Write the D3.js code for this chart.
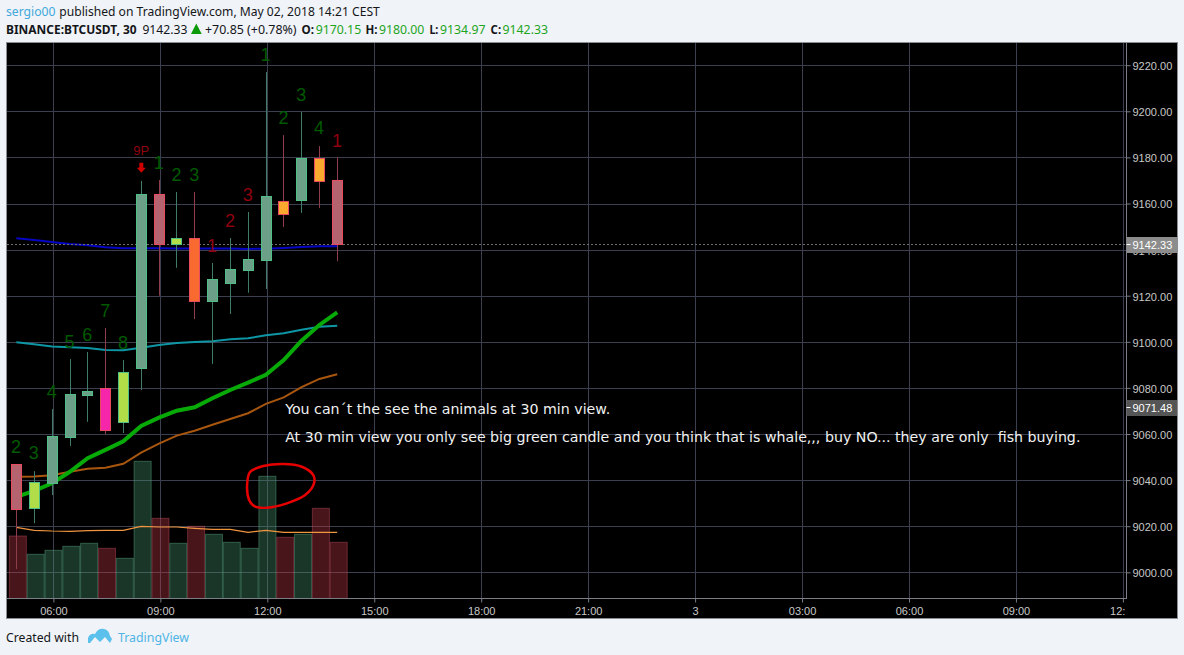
<!DOCTYPE html>
<html><head><meta charset="utf-8">
<script src="https://cdn.jsdelivr.net/npm/d3@7/dist/d3.min.js"></script>
<style>
html,body{margin:0;padding:0;background:#f0f3f7;}
svg{display:block;}
text{white-space:pre;}
</style></head><body>
<svg id="c" width="1184" height="655"></svg>
<script>
// ---- data ----
const hours  = [5,5.5,6,6.5,7,7.5,8,8.5,9,9.5,10,10.5,11,11.5,12,12.5,13,13.5,14];
const opens  = [9047,9027.8,9038.9,9058.8,9076.9,9079.8,9064.9,9088.8,9164.1,9142.4,9145,9117.8,9125.6,9131.3,9135.6,9161.1,9161.6,9179.7,9170.15];
const closes = [9027.6,9039,9059.1,9077.4,9078.7,9061.4,9086.8,9164.1,9142.4,9145,9117.8,9127.2,9131.6,9135.9,9163.3,9155.6,9179.7,9169.9,9142.33];
const highs  = [9047,9043.9,9070.8,9092.5,9095.6,9106,9092.1,9169.8,9170.2,9165,9165,9134.2,9145,9156.3,9217,9189.7,9199.7,9184.9,9180];
const lows   = [9001.4,9021.3,9033.5,9054.8,9065.3,9060,9060.4,9079.1,9120,9132.1,9109.9,9090.4,9112.1,9121.3,9122.9,9149.8,9155.9,9158,9134.97];
const kinds  = ["base","lime","base","base","base","magenta","lime","base","base","lime","orange","base","base","base","base","amber","base","amber","base"];
const volumes= [625,442,482,522,552,502,402,1372,802,552,722,642,562,502,1222,612,642,902,562];
const volMA  = [712,682,675,672,678,682,682,722,715,715,702,692,692,662,682,662,662,662,662];
const emaBlue  = [9144.9,9144.2,9143.3,9142.4,9141.9,9141,9140.6,9140.6,9140.6,9140.5,9140.5,9140.5,9140.5,9140.3,9140.4,9140.7,9141.1,9141.4,9141.4];
const emaTeal  = [9099.8,9098.9,9098,9097.6,9097.3,9096.4,9096.3,9097.4,9098.6,9099.5,9099.9,9100.2,9101.1,9101.5,9102.8,9103.7,9105.2,9106.5,9107];
const emaGreen = [9032.7,9035.3,9038.6,9043.6,9049.5,9053.1,9056.8,9063.5,9067.1,9070.1,9071.6,9075.5,9079.1,9082.3,9085.7,9092.1,9100.5,9107.3,9112.8];
const emaBrown = [9041.5,9041.6,9042.1,9043.6,9044.9,9045.4,9047.1,9051.9,9055.8,9059.3,9061.4,9064,9066.5,9069,9073.1,9075.9,9080.3,9083.9,9085.9];
const seqText  = ["2","3","4","5","6","7","8","1","2","3","1","2","3","1","2","3","4","1"];
const seqHour  = [5,5.5,6,6.5,7,7.5,8,9,9.5,10,10.5,11,11.5,12,12.5,13,13.5,14];
const seqPrice = [9054.4,9051.8,9078.2,9100,9103,9113.4,9099.5,9177.7,9172.4,9172.4,9141.6,9152.4,9163.7,9224.4,9197.1,9207.1,9192.8,9187.1];
const seqSide  = ["up","up","up","up","up","up","up","up","up","up","down","down","down","up","up","up","up","down"];
const priceTicks = [9000,9020,9040,9060,9080,9100,9120,9140,9160,9180,9200,9220];
const timeTickHours = [6,9,12,15,18,21,24,27,30,33,36];
const timeTickLabels = ["06:00","09:00","12:00","15:00","18:00","21:00","3","03:00","06:00","09:00","12:00"];
const lastPrice = 9142.33, lastVol = 9071.48;
const circleHours  = [11.52,11.89,12.45,12.97,13.29,13.31,13.06,12.55,11.99,11.66,11.49,11.44];
const circlePrices = [9043.6,9046.1,9047,9045.8,9042.2,9038.6,9033.5,9029.9,9028,9028.5,9031.4,9039.3];
const noteLines = ["You can\u00b4t the see the animals at 30 min view.",
  "At 30 min view you only see big green candle and you think that is whale,,, buy NO... they are only  fish buying."];
const notePrices = [9071.2,9059];

// ---- scales ----
const x = d3.scaleLinear().domain([6,36]).range([53.4,1122.9]);
const y = d3.scaleLinear().domain([9000,9220]).range([572.3,65.2]);
const v = d3.scaleLinear().domain([0,1372]).range([598.5,461.3]);

const palette = {
  base:{fill:"#6c9f88",edge:"#4fbf85"},
  lime:{fill:"#b0dd48",edge:"#4fbf85"},
  magenta:{fill:"#f526a9",edge:"#e84a5f"},
  orange:{fill:"#f96a30",edge:"#e84a5f"},
  amber:{fill:"#f9aa2e",edge:"#e84a5f"},
  down:{fill:"#b5646f",edge:"#e84a5f"}
};
const svg = d3.select("#c");
const L=7,T=43,R=1177,B=618,PR=1126.5,PB=599;
const defs = svg.append("defs");
defs.append("clipPath").attr("id","plot").append("rect").attr("x",L).attr("y",T).attr("width",PR-L).attr("height",PB-T);

svg.append("rect").attr("x",L-0.5).attr("y",T-0.5).attr("width",R-L+1).attr("height",B-T+1).attr("fill","#000").attr("stroke","#8a8d93");

// grid
const gridC="#3b3f50";
const grid=svg.append("g").attr("clip-path","url(#plot)");
grid.selectAll(".gy").data(priceTicks).join("line").attr("x1",L).attr("x2",PR)
  .attr("y1",d=>Math.round(y(d))+.5).attr("y2",d=>Math.round(y(d))+.5).attr("stroke",gridC);
grid.selectAll(".gx").data(timeTickHours).join("line").attr("y1",T).attr("y2",PB)
  .attr("x1",d=>Math.round(x(d))+.5).attr("x2",d=>Math.round(x(d))+.5).attr("stroke",gridC);

const plot=svg.append("g").attr("clip-path","url(#plot)");
const isUp=i=>closes[i]>=opens[i];
const bw=x(6.5)-x(6);

// volume
plot.selectAll(".vol").data(volumes).join("rect")
  .attr("x",(d,i)=>x(hours[i])-bw/2+.5).attr("width",bw-.8)
  .attr("y",d=>v(d)).attr("height",d=>v(0)-v(d))
  .attr("fill",(d,i)=>isUp(i)?"rgba(72,150,110,.36)":"rgba(190,55,70,.38)")
  .attr("stroke",(d,i)=>isUp(i)?"rgba(90,170,135,.45)":"rgba(200,80,100,.42)");

const line=d3.line().x((d,i)=>x(hours[i])-1.4).y(d=>y(d));
// volume MA
plot.append("path").attr("d",d3.line().x((d,i)=>x(hours[i])-1.4).y(d=>v(d))(volMA)).attr("fill","none").attr("stroke","#f0953f").attr("stroke-width",1.2);

// ema lines
[[emaBrown,"#a9570f",2],[emaTeal,"#0e96a5",2],[emaBlue,"#0505c4",2],[emaGreen,"#08aa08",4]].forEach(([s,c,w])=>{
  plot.append("path").attr("d",line(s)).attr("fill","none").attr("stroke",c).attr("stroke-width",w);
});

// last price line
plot.append("line").attr("x1",L).attr("x2",PR).attr("y1",Math.round(y(lastPrice))+.5).attr("y2",Math.round(y(lastPrice))+.5)
  .attr("stroke","#6e6e6e").attr("stroke-dasharray","2 2");

// wicks
const cx=i=>Math.round(x(hours[i])-1.7)+.5;
plot.selectAll(".wick").data(hours).join("line")
  .attr("x1",(d,i)=>cx(i)).attr("x2",(d,i)=>cx(i))
  .attr("y1",(d,i)=>y(highs[i])).attr("y2",(d,i)=>y(lows[i]))
  .attr("stroke",(d,i)=>isUp(i)?"#3f7d69":"#8f3d4c");
// bodies
plot.selectAll(".body").data(hours).join("rect")
  .attr("x",(d,i)=>cx(i)-5).attr("width",10)
  .attr("y",(d,i)=>Math.round(y(Math.max(opens[i],closes[i])))+.5)
  .attr("height",(d,i)=>Math.max(1,Math.round(Math.abs(y(opens[i])-y(closes[i])))))
  .attr("fill",(d,i)=>{const k=kinds[i];return k==="base"&&!isUp(i)?palette.down.fill:palette[k].fill;})
  .attr("stroke",(d,i)=>isUp(i)?palette.base.edge:palette.down.edge);

// TD sequence labels
plot.selectAll(".seq").data(seqText).join("text")
  .attr("x",(d,i)=>x(seqHour[i])-1.7).attr("y",(d,i)=>y(seqPrice[i]))
  .attr("text-anchor","middle").attr("dominant-baseline","central")
  .attr("font-family","Liberation Sans").attr("font-size",18)
  .attr("fill",(d,i)=>seqSide[i]==="up"?"#005a00":"#8f0010").text(d=>d);
// 9P + arrow
const ax=x(8.5)-1.2, ay=y(9175.5);
plot.append("text").attr("x",ax).attr("y",y(9183)).attr("text-anchor","middle").attr("dominant-baseline","central")
  .attr("font-family","Liberation Sans").attr("font-size",13).attr("fill","#8f0010").text("9P");
plot.append("path").attr("fill","#d00000")
  .attr("d",d3.line()([[ax-2,ay-5],[ax+2,ay-5],[ax+2,ay],[ax+4.5,ay],[ax,ay+5],[ax-4.5,ay],[ax-2,ay]])+"Z");

// annotations
plot.selectAll(".note").data(noteLines).join("text")
  .attr("x",x(12.5)).attr("y",(d,i)=>y(notePrices[i])+6)
  .attr("font-family","DejaVu Sans").attr("font-size",14.2).attr("fill","#f0f0f0").text(d=>d);
plot.append("path").attr("fill","none").attr("stroke","#e60000").attr("stroke-width",2.5)
  .attr("d",d3.line().curve(d3.curveCatmullRomClosed).x(d=>x(d[0])).y(d=>y(d[1]))(circleHours.map((h,i)=>[h,circlePrices[i]])));

// axes lines
const axisC="#7b7e86";
const yAxis=d3.axisRight(y).tickValues(priceTicks).tickFormat(d3.format(".2f")).tickSize(4).tickPadding(2);
const gy=svg.append("g").attr("transform",`translate(${PR},0)`).call(yAxis);
gy.select(".domain").attr("d",`M0,${T}V${PB}`).attr("stroke",axisC);
gy.selectAll("line").attr("stroke",axisC);
gy.selectAll("text").attr("font-family","Liberation Sans").attr("font-size",11).attr("fill","#c8c8c8").attr("dy","0.4em");

const xAxis=d3.axisBottom(x).tickValues(timeTickHours).tickFormat((d,i)=>timeTickLabels[i]).tickSize(4).tickPadding(5);
const gx=svg.append("g").attr("transform",`translate(0,${PB-.5})`).call(xAxis);
gx.select(".domain").attr("d",`M${L},0H${PR}`).attr("stroke",axisC);
gx.selectAll("line").attr("stroke",axisC);
gx.selectAll("text").attr("font-family","Liberation Sans").attr("font-size",11).attr("fill","#c8c8c8");
gx.selectAll(".tick").filter(d=>d===36).select("text").attr("text-anchor","end").text("12:").attr("x",2);

// price labels
[[lastPrice,"#8c8c8c"],[lastVol,"#555555"]].forEach(([p,c])=>{
  const py=Math.ceil(y(p));
  svg.append("rect").attr("x",PR).attr("y",py-8).attr("width",R-PR).attr("height",16).attr("fill",c);
  svg.append("line").attr("x1",PR).attr("x2",PR+4).attr("y1",py-.5).attr("y2",py-.5).attr("stroke","#fff");
  svg.append("text").attr("x",PR+6).attr("y",py+4).attr("font-family","Liberation Sans").attr("font-size",11)
    .attr("fill","#fff").text(d3.format(".2f")(p));
});

// header
const hdr=(t,xp,yp,col,w,len)=>{const e=svg.append("text").attr("x",xp).attr("y",yp).attr("font-family","Noto Sans").attr("font-size",12.5).attr("fill",col).attr("font-weight",w||400).text(t);if(len)e.attr("textLength",len).attr("lengthAdjust","spacingAndGlyphs");return e;};
const ink="#14161a", gr="#1ea51e";
hdr("sergio00",6,16,"#3fa9dc",400,49.5);
hdr("published on TradingView.com, May 02, 2018 14:21 CEST",59.3,16,ink,400,320.5);
hdr("BINANCE:BTCUSDT, 30",6,34,ink,700,130.6);
hdr("9142.33",142.4,34,ink,400,45);
svg.append("path").attr("fill","#0a9a0a").attr("d",d3.line()([[191,34],[201.7,34],[196.3,23.5]])+"Z");
hdr("+70.85 (+0.78%)",205,34,ink,400,91.6);
[["O:",301.6,12.5,"9170.15",315.7],["H:",365.5,12,"9180.00",378.9],["L:",429.4,9,"9134.97",440],["C:",490.6,10.5,"9142.33",502.5]].forEach(([a,xa,la,b,xb])=>{
  hdr(a,xa,34,ink,700,la); hdr(b,xb,34,gr,400,45.5);
});

// footer
svg.append("text").attr("x",6).attr("y",642).attr("font-family","Noto Sans").attr("font-size",12.5).attr("fill",ink).attr("textLength",73).attr("lengthAdjust","spacingAndGlyphs").text("Created with");
svg.append("text").attr("x",118).attr("y",642).attr("font-family","Noto Sans").attr("font-size",12.5).attr("fill","#4fb5e6").attr("textLength",71).attr("lengthAdjust","spacingAndGlyphs").text("TradingView");
svg.append("path").attr("fill","#5cc0ec").attr("d","M88,643 L88,638 Q90,633 95,634 Q98,628 104,629 Q109,630 110,636 L112,639 L110,643 L105,637 L100,642 L95,637 L90,643 Z");
</script>
</body></html>
